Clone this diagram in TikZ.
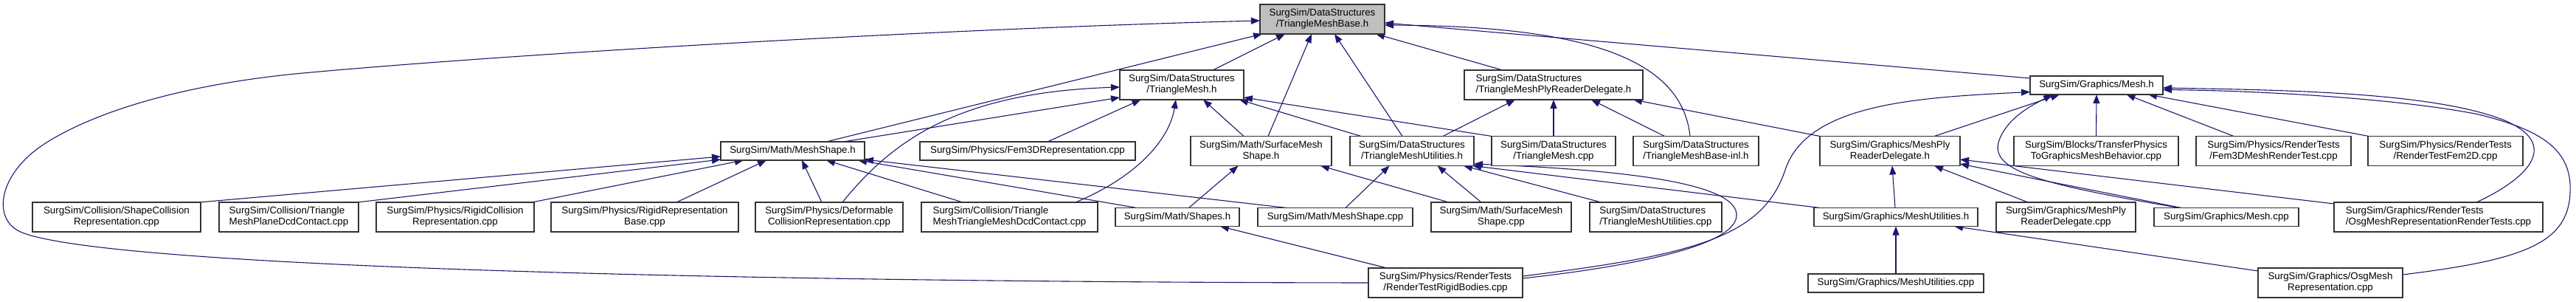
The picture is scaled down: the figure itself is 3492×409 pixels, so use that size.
\documentclass[tikz,border=0pt]{standalone}
\usepackage{fontspec}
\setmainfont{Liberation Sans}
\usetikzlibrary{arrows.meta,calc}
\definecolor{edgec}{HTML}{191970}
\definecolor{boxc}{HTML}{333333}
\definecolor{graybox}{HTML}{BFBFBF}
\pgfdeclarelayer{bg}
\pgfsetlayers{bg,main}
\tikzset{
  box/.style={draw=boxc, line width=1.2pt, fill=white, inner sep=0pt, outer sep=0pt,
    font=\fontsize{13.33}{15}\selectfont, align=center},
  btwo/.style={box, minimum height=40pt},
  bone/.style={box, minimum height=25pt},
  dep/.style={draw=edgec, line width=1.1pt, -{Triangle[length=12pt,width=9pt]}}
}
\begin{document}
\begin{tikzpicture}[x=1pt,y=-1pt]
\useasboundingbox (0,0) rectangle (3492,409);
% row 0
\node[btwo, fill=graybox, minimum width=169pt] (tmb) at (1792.5,26) {SurgSim/DataStructures\\/TriangleMeshBase.h};
% row 1
\node[btwo, minimum width=168pt] (tmh) at (1602,115) {SurgSim/DataStructures\\/TriangleMesh.h};
\node[btwo, minimum width=242pt, align=left] (tmply) at (2106,115) {SurgSim/DataStructures\\/TriangleMeshPlyReaderDelegate.h};
\node[bone, minimum width=180pt] (meshh) at (2842,115.5) {SurgSim/Graphics/Mesh.h};
% row 2
\node[bone, minimum width=195pt] (ms) at (1074.5,204.5) {SurgSim/Math/MeshShape.h};
\node[bone, minimum width=292pt] (fem3d) at (1393,204.5) {SurgSim/Physics/Fem3DRepresentation.cpp};
\node[btwo, minimum width=191pt] (smsh) at (1709.5,204.5) {SurgSim/Math/SurfaceMesh\\Shape.h};
\node[btwo, minimum width=168pt] (tmutilh) at (1914,204.5) {SurgSim/DataStructures\\/TriangleMeshUtilities.h};
\node[btwo, minimum width=168pt] (tmcpp) at (2106,204.5) {SurgSim/DataStructures\\/TriangleMesh.cpp};
\node[btwo, minimum width=170pt] (tmbinl) at (2299,204.5) {SurgSim/DataStructures\\/TriangleMeshBase-inl.h};
\node[btwo, minimum width=190pt] (meshplyh) at (2562,204.5) {SurgSim/Graphics/MeshPly\\ReaderDelegate.h};
\node[btwo, minimum width=223pt] (transfer) at (2841.5,204.5) {SurgSim/Blocks/TransferPhysics\\ToGraphicsMeshBehavior.cpp};
\node[btwo, minimum width=210pt] (fem3drt) at (3082,204.5) {SurgSim/Physics/RenderTests\\/Fem3DMeshRenderTest.cpp};
\node[btwo, minimum width=210pt] (fem2d) at (3315,204.5) {SurgSim/Physics/RenderTests\\/RenderTestFem2D.cpp};
% row 3
\node[btwo, minimum width=228pt] (shapecoll) at (158,294) {SurgSim/Collision/ShapeCollision\\Representation.cpp};
\node[btwo, minimum width=189pt, align=left] (tmplane) at (391.5,294) {SurgSim/Collision/Triangle\\MeshPlaneDcdContact.cpp};
\node[btwo, minimum width=214pt] (rigidcoll) at (617,294) {SurgSim/Physics/RigidCollision\\Representation.cpp};
\node[btwo, minimum width=254pt] (rigidrep) at (874,294) {SurgSim/Physics/RigidRepresentation\\Base.cpp};
\node[btwo, minimum width=200pt] (deform) at (1124,294) {SurgSim/Physics/Deformable\\CollisionRepresentation.cpp};
\node[btwo, minimum width=239pt, align=left] (tmtm) at (1368.5,294) {SurgSim/Collision/Triangle\\MeshTriangleMeshDcdContact.cpp};
\node[bone, minimum width=168pt] (shapesh) at (1596,294) {SurgSim/Math/Shapes.h};
\node[bone, minimum width=210pt] (mscpp) at (1810,294) {SurgSim/Math/MeshShape.cpp};
\node[btwo, minimum width=190pt] (smscpp) at (2035,294) {SurgSim/Math/SurfaceMesh\\Shape.cpp};
\node[btwo, minimum width=179pt, align=left] (tmutilcpp) at (2244.5,294) {SurgSim/DataStructures\\/TriangleMeshUtilities.cpp};
\node[bone, minimum width=222pt] (meshutilh) at (2570,294) {SurgSim/Graphics/MeshUtilities.h};
\node[btwo, minimum width=189pt] (meshplycpp) at (2800.5,294) {SurgSim/Graphics/MeshPly\\ReaderDelegate.cpp};
\node[bone, minimum width=196pt] (meshcpp) at (3018,294) {SurgSim/Graphics/Mesh.cpp};
\node[btwo, minimum width=283pt, align=left] (osgrt) at (3305.5,294) {SurgSim/Graphics/RenderTests\\/OsgMeshRepresentationRenderTests.cpp};
% row 4
\node[btwo, minimum width=209pt] (rtrigid) at (1959.5,383) {SurgSim/Physics/RenderTests\\/RenderTestRigidBodies.cpp};
\node[bone, minimum width=238pt] (meshutilcpp) at (2570,383.5) {SurgSim/Graphics/MeshUtilities.cpp};
\node[btwo, minimum width=196pt] (osgrep) at (3159,383) {SurgSim/Graphics/OsgMesh\\Representation.cpp};

\begin{pgfonlayer}{bg}
% into TriangleMeshBase.h
\draw[dep] (rtrigid.west) .. controls (1000,382) and (150,362) .. (30,315) .. controls (-12,298.5) and (-3,236) .. (60,195) .. controls (130,150) and (250,115) .. (400,100) .. controls (700,72) and (1300,38) .. ($(tmb.west)+(0,2)$);
\draw[dep] ($(ms.north)+(45.5,0)$) -- ($(tmb.south)+(-81.5,0)$);
\draw[dep] ($(tmh.north)+(42,0)$) -- ($(tmb.south)+(-50.5,0)$);
\draw[dep] ($(smsh.north)+(9.5,0)$) -- ($(tmb.south)+(-14.5,0)$);
\draw[dep] ($(tmutilh.north)+(-13,0)$) -- ($(tmb.south)+(16.5,0)$);
\draw[dep] ($(tmply.north)+(-69,0)$) -- ($(tmb.south)+(72.5,0)$);
\draw[dep] ($(tmbinl.north)+(-8,0)$) .. controls (2280,80) and (2150,35) .. ($(tmb.east)+(0,8)$);
\draw[dep] ($(meshh.west)+(0,-9.5)$) -- ($(tmb.east)+(0,5)$);
% into TriangleMesh.h
\draw[dep] ($(ms.north)+(68.5,0)$) -- ($(tmh.west)+(0,17)$);
\draw[dep] ($(deform.north)+(18,0)$) .. controls (1210,190) and (1300,125) .. ($(tmh.west)+(0,3)$);
\draw[dep] ($(fem3d.north)+(27,0)$) -- ($(tmh.south)+(-55.5,0)$);
\draw[dep] ($(tmtm.north)+(89.5,0)$) .. controls (1540,240) and (1585,190) .. ($(tmh.south)+(-8,0)$);
\draw[dep] ($(smsh.north)+(-23.5,0)$) -- ($(tmh.south)+(29,0)$);
\draw[dep] ($(tmutilh.north)+(-69,0)$) -- ($(tmh.south)+(78,0)$);
\draw[dep] ($(tmcpp.north)+(-84,0)$) -- ($(tmh.east)+(0,17)$);
% into MeshShape.h
\draw[dep] ($(shapecoll.north)+(112,0)$) -- ($(ms.west)+(0,7.5)$);
\draw[dep] ($(tmplane.north)+(93,0)$) -- ($(ms.west)+(0,11.5)$);
\draw[dep] ($(rigidcoll.north)+(104,0)$) -- ($(ms.south)+(-66.5,0)$);
\draw[dep] ($(rigidrep.north)+(43,0)$) -- ($(ms.south)+(-35.5,0)$);
\draw[dep] ($(deform.north)+(-10,0)$) -- ($(ms.south)+(12.5,0)$);
\draw[dep] ($(tmtm.north)+(-63.5,0)$) -- ($(ms.south)+(45.5,0)$);
\draw[dep] ($(shapesh.north)+(-55,0)$) -- ($(ms.south)+(88.5,0)$);
\draw[dep] ($(mscpp.north)+(-66,0)$) -- ($(ms.south east)+(0,-1)$);
% into SurfaceMeshShape.h
\draw[dep] ($(shapesh.north)+(15.5,0)$) -- ($(smsh.south)+(-31,0)$);
\draw[dep] ($(smscpp.north)+(-71,0)$) -- ($(smsh.south)+(80.5,0)$);
% into TriangleMeshUtilities.h
\draw[dep] ($(mscpp.north)+(14,0)$) -- ($(tmutilh.south)+(-30.5,0)$);
\draw[dep] ($(smscpp.north)+(-27,0)$) -- ($(tmutilh.south)+(34.5,0)$);
\draw[dep] ($(tmutilcpp.north)+(-74,0)$) -- ($(tmutilh.south)+(70,0)$);
\draw[dep] ($(meshutilh.north)+(-103,0)$) -- ($(tmutilh.south)+(82,0)$);
\draw[dep] ($(rtrigid.east)+(0,-6)$) .. controls (2200,362) and (2350,335) .. (2354,293) .. controls (2357,255) and (2250,232) .. ($(tmutilh.east)+(0,17.5)$);
% into Graphics/Mesh.h from RenderTestRigidBodies
\draw[dep] ($(rtrigid.east)+(0,-9)$) .. controls (2300,345) and (2390,320) .. (2420,230) .. controls (2450,140) and (2600,132) .. ($(meshh.west)+(0,9)$);
% into MeshUtilities.h
\draw[dep] (meshutilcpp.north) -- (meshutilh.south);
\draw[dep] ($(osgrep.west)+(0,-16)$) -- ($(meshutilh.south)+(79,0)$);
% into Shapes.h
\draw[dep] ($(rtrigid.north)+(-79.5,0)$) -- ($(shapesh.south)+(58,0)$);
% into MeshPlyReaderDelegate.h
\draw[dep] ($(meshutilh.north)+(-1,0)$) -- ($(meshplyh.south)+(3,0)$);
\draw[dep] ($(meshplycpp.north)+(-51.5,0)$) -- ($(meshplyh.south)+(60,0)$);
\draw[dep] ($(meshcpp.north)+(-61,0)$) -- ($(meshplyh.east)+(0,17.5)$);
\draw[dep] ($(osgrt.west)+(0,-18)$) -- ($(meshplyh.east)+(0,11.5)$);
% into TriangleMeshPlyReaderDelegate.h
\draw[dep] ($(meshplyh.north)+(-95,0)$) -- ($(tmply.south)+(108,0)$);
\draw[dep] ($(tmutilh.north)+(42,0)$) -- ($(tmply.south)+(-52,0)$);
\draw[dep] (tmcpp.north) -- (tmply.south);
\draw[dep] ($(tmbinl.north)+(-42.5,0)$) -- ($(tmply.south)+(51,0)$);
% into Graphics/Mesh.h
\draw[dep] ($(meshplyh.north)+(60,0)$) -- ($(meshh.south)+(-50,0)$);
\draw[dep] ($(meshcpp.north)+(-64,0)$) .. controls (2770,250) and (2695,232) .. (2710,190) .. controls (2722,157) and (2760,140) .. ($(meshh.south)+(-60,0)$);
\draw[dep] (transfer.north) -- (meshh.south);
\draw[dep] ($(fem3drt.north)+(-54,0)$) -- ($(meshh.south)+(40.5,0)$);
\draw[dep] ($(fem2d.north)+(-104,0)$) -- ($(meshh.south)+(70,0)$);
\draw[dep] ($(osgrt.north)+(51.5,0)$) .. controls (3430,240) and (3470,195) .. (3395,163) .. controls (3300,125) and (3100,122) .. ($(meshh.east)+(0,3.5)$);
\draw[dep] ($(osgrep.east)+(0,-11)$) .. controls (3420,352) and (3482,330) .. (3484,260) .. controls (3487,200) and (3440,175) .. (3360,155) .. controls (3260,135) and (3080,123) .. ($(meshh.east)+(0,6)$);
\end{pgfonlayer}
\end{tikzpicture}
\end{document}
